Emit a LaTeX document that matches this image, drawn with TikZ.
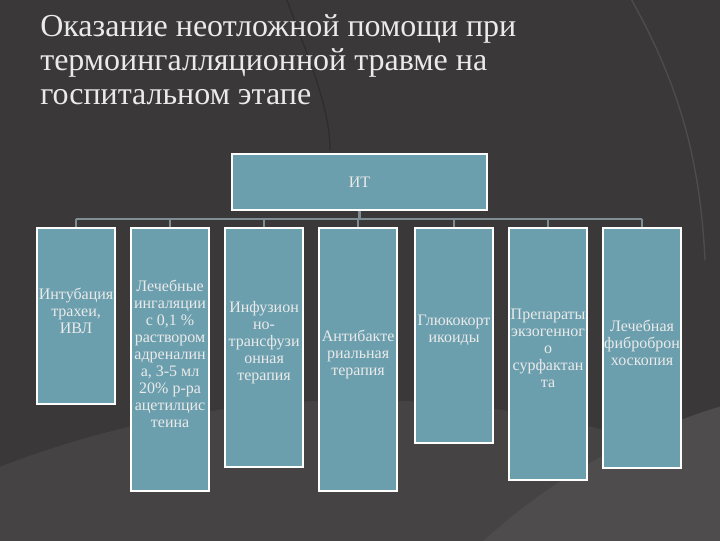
\documentclass[tikz,border=0pt]{standalone}
\usepackage{fontspec}
\setmainfont{Liberation Serif}
\definecolor{bg}{HTML}{3A3838}
\definecolor{bg2}{HTML}{454343}
\definecolor{bg3}{HTML}{4E4C4C}
\definecolor{boxc}{HTML}{6C9FAE}
\definecolor{linec}{HTML}{7E8E93}
\definecolor{tc}{HTML}{EAEAEA}
\begin{document}
\begin{tikzpicture}[x=0.75pt,y=-0.75pt,
  bx/.style={draw=white,line width=1.6pt,fill=boxc,anchor=north west,inner sep=0pt,
    text=tc,font=\fontsize{12}{12.75}\selectfont,align=center},
  conn/.style={draw=linec,line width=2pt}]
\fill[bg] (0,0) rectangle (720,540);
\begin{scope}
\clip (0,0) rectangle (720,540);
\fill[bg2] (360,1400) circle (1000);
\fill[bg3] (900,1000) circle (620);
\draw[bg3!60!black,line width=1pt] (280,-20) .. controls (300,40) and (330,100) .. (330,150);
\draw[bg3,line width=1pt] (620,-20) .. controls (680,80) and (700,160) .. (705,260);
\end{scope}
\node[anchor=north west,text=tc,align=left,font=\fontsize{24}{25.5}\selectfont,inner sep=0pt] (title) at (40,14)
 {Оказание неотложной помощи при\\термоингалляционной травме на\\госпитальном этапе};
\node[bx,minimum width=255*0.75pt,minimum height=56*0.75pt] (top) at (231,153) {ИТ};
\coordinate (bus) at (360,219);
\foreach \i/\x/\h/\t in {
 1/36/176/{Интубация\\трахеи,\\ИВЛ},
 2/130/263/{Лечебные\\ингаляции\\с 0,1 \%\\раствором\\адреналин\\а, 3-5 мл\\20\% р-ра\\ацетилцис\\теина},
 3/224/239/{Инфузион\\но-\\трансфузи\\онная\\терапия},
 4/318/263/{Антибакте\\риальная\\терапия},
 5/414/215/{Глюкокорт\\икоиды},
 6/508/252/{Препараты\\экзогенног\\о\\сурфактан\\та},
 7/602/240/{Лечебная\\фиброброн\\хоскопия}}{
  \node[bx,minimum width=78*0.75pt,minimum height=\h*0.75pt] (b\i) at (\x,227) {};
  \node[text=tc,font=\fontsize{12}{12.75}\selectfont,align=center,inner sep=0pt] (t\i) at ([yshift=4pt]b\i.center) {\t};
}
\draw[conn] (top.south) -- (top.south |- bus);
\draw[conn] (b1.north |- bus) -- (b7.north |- bus);
\foreach \i in {1,...,7}{\draw[conn] (b\i.north |- bus) -- (b\i.north);}
\end{tikzpicture}
\end{document}
